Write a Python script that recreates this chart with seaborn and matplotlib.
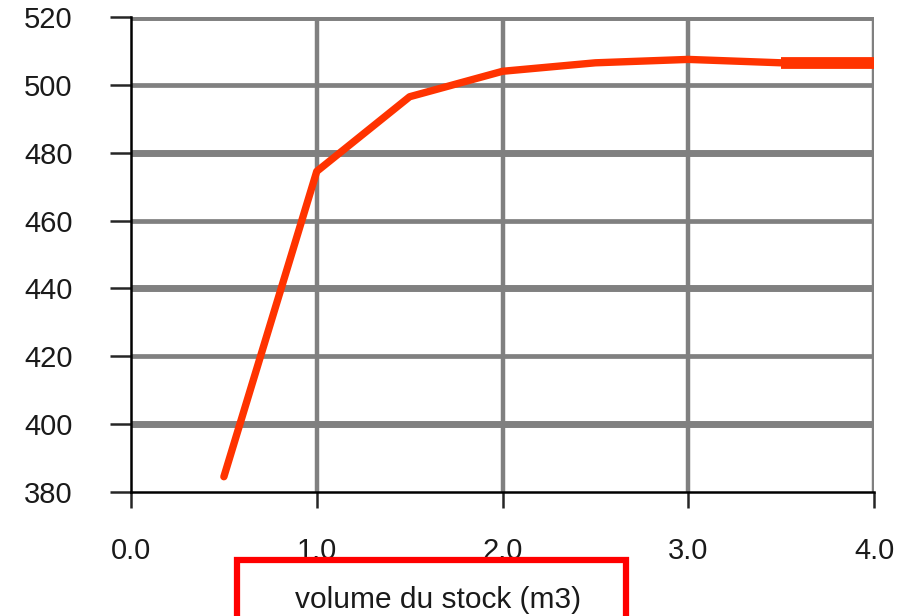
import seaborn as sns
import matplotlib.pyplot as plt
import pandas as pd
from matplotlib.patches import Rectangle

volume = [0.5, 1.0, 1.5, 2.0, 2.5, 3.0, 3.5, 4.0]
valeur = [384.5, 474.5, 496.5, 504.0, 506.5, 507.5, 506.5, 506.5]
x_ticks = [0.0, 1.0, 2.0, 3.0, 4.0]
y_ticks = [380, 400, 420, 440, 460, 480, 500, 520]

df = pd.DataFrame({'volume': volume, 'valeur': valeur})

sns.set_style('white')
plt.rcParams['font.family'] = ['Liberation Sans', 'DejaVu Sans']

fig = plt.figure(figsize=(9.06, 6.16), dpi=100)
ax = fig.add_axes([0.1446, 0.2013, 0.8201, 0.7711])

# grid drawn by hand: alternating thick / thin horizontals
for v in y_ticks[1:]:
    lw = 5 if (v - 400) % 40 == 0 else 3.4
    ax.axhline(v, color='#808080', lw=lw, zorder=1)
for v in x_ticks[1:]:
    ax.axvline(v, color='#808080', lw=3.2, zorder=1)

sns.lineplot(data=df, x='volume', y='valeur', ax=ax, color='#ff3300', lw=5.3,
             zorder=3, solid_capstyle='round')
sns.lineplot(data=df.iloc[-2:], x='volume', y='valeur', ax=ax, color='#ff3300',
             lw=8.5, zorder=3, solid_capstyle='butt')

ax.set_xlim(0, 4)
ax.set_ylim(380, 520)
ax.set_xticks(x_ticks)
ax.set_xticklabels([f'{t:.1f}' for t in x_ticks])
ax.set_yticks(y_ticks)
ax.set_xlabel('')
ax.set_ylabel('')

for s in ['top', 'right']:
    ax.spines[s].set_visible(False)
for s in ['left', 'bottom']:
    ax.spines[s].set_color('black')
    ax.spines[s].set_linewidth(1.8)

ax.tick_params(axis='y', direction='out', length=15, width=1.8, pad=27,
               labelsize=21, labelcolor='#1a1a1a', left=True)
ax.tick_params(axis='x', direction='out', length=11.5, width=1.8, pad=21,
               labelsize=21, labelcolor='#1a1a1a', bottom=True)

fig.text(0.4834, 0.026, 'volume du stock (m3)', ha='center', va='center',
         fontsize=21.5, color='#1a1a1a')
fig.patches.append(Rectangle((0.2616, -0.05), 0.4294, 0.1404, transform=fig.transFigure,
                             fill=False, edgecolor='#ff0000', lw=4.5))

fig.savefig('out.png', dpi=100)
